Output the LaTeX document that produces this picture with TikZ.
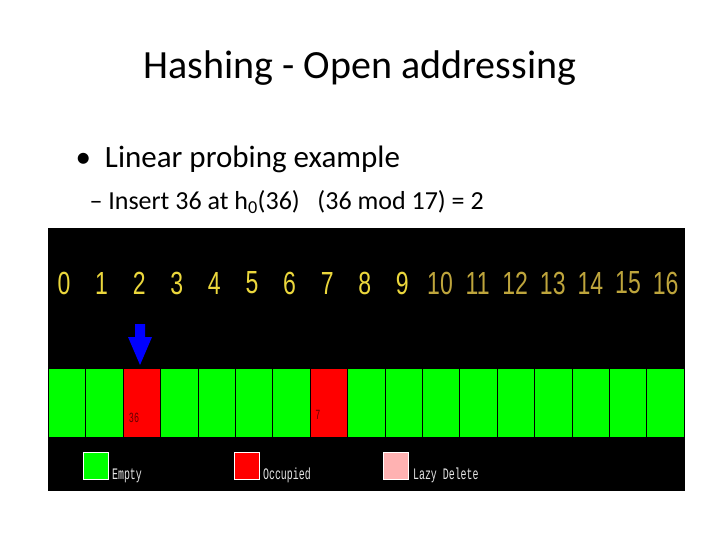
\documentclass[tikz,border=0pt]{standalone}
\usepackage{fontspec}
\setmainfont{Carlito}
\newfontfamily\monof{Liberation Mono}
\newfontfamily\numf{Liberation Sans}
\definecolor{yel}{RGB}{235,215,60}
\definecolor{dyel}{RGB}{190,165,60}
\begin{document}
\begin{tikzpicture}[x=1pt,y=-1pt,
  cell/.style={draw=black,line width=0.8pt,minimum width=37.4pt,minimum height=69pt,inner sep=0,anchor=north west},
  idx/.style={font=\numf\fontsize{32}{32}\selectfont,anchor=center,xscale=0.72},
  legbox/.style={draw=white,line width=1pt,minimum width=25pt,minimum height=27pt,inner sep=0,anchor=north west},
  legtext/.style={text=white!80!gray,font=\monof\fontsize{16}{16}\selectfont,anchor=base west,xscale=0.62,inner sep=0},
  val/.style={font=\monof\fontsize{14}{14}\selectfont,text=black!60!red,xscale=0.6}]
\useasboundingbox (0,0) rectangle (720,540);
\fill[white] (0,0) rectangle (720,540);
\node (title) at (360,68) {\fontsize{40}{44}\selectfont Hashing - Open addressing};
\node[anchor=base west] (b1) at (72,168) {\fontsize{31}{36}\selectfont\textbullet\ \ Linear probing example};
\node[anchor=base west] (b2) at (86,210) {\fontsize{26}{30}\selectfont – Insert 36 at h\textsubscript{0}(36)\ \ \ (36 mod 17) = 2};
\fill[black] (48,228) rectangle (685,491);
\foreach \i in {0,...,16}{
  \pgfmathsetmacro{\xx}{48+37.4*\i}
  \ifnum\i=2 \def\cc{red}\else\ifnum\i=7 \def\cc{red}\else\def\cc{green}\fi\fi
  \ifnum\i>9 \def\tc{dyel}\else\def\tc{yel}\fi
  \node[cell,fill=\cc] (c\i) at (\xx,368) {};
  \node[idx,text=\tc] (n\i) at (\xx+16+0.2*\i,283) {\i};
}
\node[val] (v36) at (134,418) {36};
\node[val] (v7) at (318,415) {7};
\fill[blue] (135,324) rectangle (145,337) -- (128,337) -- (140,365) -- (152,337) -- (145,337);
\node[legbox,fill=green] (l1) at (83,452) {};
\node[legtext] (t1) at (112,479) {Empty};
\node[legbox,fill=red] (l2) at (234,452) {};
\node[legtext] (t2) at (263,479) {Occupied};
\node[legbox,fill=red!30] (l3) at (383,452) {};
\node[legtext] (t3) at (413,479) {Lazy Delete};
\end{tikzpicture}
\end{document}
